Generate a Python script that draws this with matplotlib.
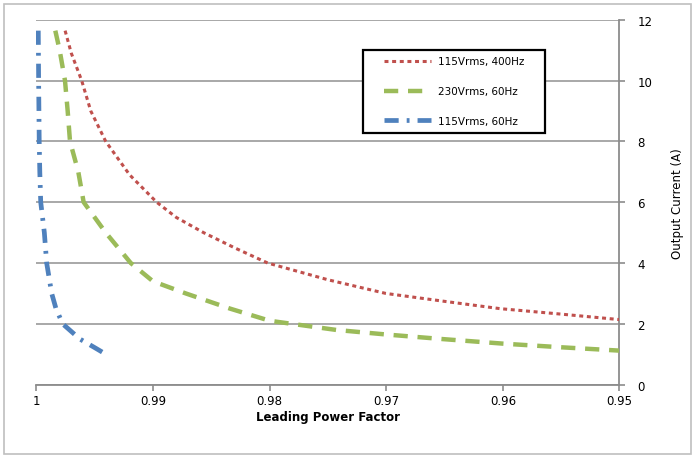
import numpy as np
import matplotlib
matplotlib.use('Agg')
import matplotlib.pyplot as plt
from matplotlib.patches import Rectangle

# ── Data (leading PF vs output current) ──
pf_400 = [0.99753, 0.9970, 0.99611, 0.99533, 0.99405, 0.9920, 0.98968, 0.9880,
          0.98566, 0.9830, 0.98016, 0.9750, 0.97003, 0.9650, 0.96024, 0.9550, 0.9500]
i_400 = [11.64, 10.9, 10.0, 9.0, 8.0, 6.9, 6.0, 5.5, 5.0, 4.5, 4.0, 3.45, 3.0,
         2.74, 2.5, 2.32, 2.14]

pf_230 = [0.99837, 0.99800, 0.99754, 0.99731, 0.99711, 0.99640, 0.99594, 0.99405,
          0.99190, 0.9900, 0.98718, 0.98338, 0.97997, 0.97807, 0.97428, 0.9700,
          0.96518, 0.9600, 0.9550, 0.9500]
i_230 = [11.64, 11.0, 10.0, 9.0, 8.0, 7.0, 6.0, 5.0, 4.0, 3.4, 3.0, 2.5, 2.1,
         2.0, 1.8, 1.65, 1.5, 1.35, 1.23, 1.12]

pf_115 = [0.99983, 0.99980, 0.99975, 0.99970, 0.99962, 0.99931, 0.99911, 0.99868,
          0.99831, 0.99774, 0.99700, 0.99626, 0.99500, 0.99381]
i_115 = [11.64, 10.0, 8.0, 7.0, 6.0, 5.0, 4.0, 3.0, 2.5, 2.0, 1.75, 1.5, 1.22, 0.95]

labels = ['115Vrms, 400Hz', '230Vrms, 60Hz', '115Vrms, 60Hz']
x_ticks = [1.0, 0.99, 0.98, 0.97, 0.96, 0.95]
x_ticklabels = ['1', '0.99', '0.98', '0.97', '0.96', '0.95']
y_ticks = [0, 2, 4, 6, 8, 10, 12]

RED = '#C0504D'
GREEN = '#9BBB59'
BLUE = '#4F81BD'
AXC = '#8C8C8C'

plt.rcParams['font.family'] = ['DejaVu Sans']

fig = plt.figure(figsize=(6.94, 4.56), dpi=100)
ax = fig.add_axes([0.0523, 0.1542, 0.8403, 0.8004])

ax.plot(pf_400, i_400, color=RED, lw=2.2, ls=(0, (1.3, 1.2)), label=labels[0], zorder=3)
ax.plot(pf_230, i_230, color=GREEN, lw=3.2, ls=(0, (3.2, 2.2)), label=labels[1], zorder=3)
ax.plot(pf_115, i_115, color=BLUE, lw=3.4, ls=(0, (3.0, 1.7, 0.6, 1.7)), label=labels[2], zorder=3)

ax.set_xlim(1.0, 0.95)
ax.set_ylim(0, 12)
ax.set_xticks(x_ticks)
ax.set_xticklabels(x_ticklabels)
ax.set_yticks(y_ticks)

ax.yaxis.tick_right()
ax.yaxis.set_label_position('right')
ax.yaxis.grid(True, color='#9A9A9A', lw=1.2)
ax.set_axisbelow(True)

for s in ['left', 'top']:
    ax.spines[s].set_visible(False)
for s in ['bottom', 'right']:
    ax.spines[s].set_color(AXC)
    ax.spines[s].set_linewidth(1.3)

ax.tick_params(axis='both', direction='out', length=4, width=1.2, color=AXC,
               labelsize=8.5, pad=3)
ax.tick_params(axis='y', pad=9)

ax.set_xlabel('Leading Power Factor', fontsize=8.5, fontweight='bold', labelpad=2)
ax.set_ylabel('Output Current (A)', fontsize=8.5, labelpad=13)

# legend box
box = Rectangle((0.56, 0.690), 0.313, 0.227, transform=ax.transAxes,
                facecolor='white', edgecolor='black', lw=1.6, zorder=4)
ax.add_patch(box)
leg = ax.legend(loc='center', bbox_to_anchor=(0.7166, 0.804), frameon=False,
                fontsize=7.5, handlelength=4.5, labelspacing=1.9, handletextpad=0.7)
leg.set_zorder(5)

# outer border
fig.patches.append(Rectangle((4.4 / 694, 1 - 455 / 456), 686.5 / 694, 450.5 / 456,
                             transform=fig.transFigure, fill=False,
                             edgecolor='#BFBFBF', lw=1.2))

plt.savefig('out.png', dpi=100)
plt.close()
